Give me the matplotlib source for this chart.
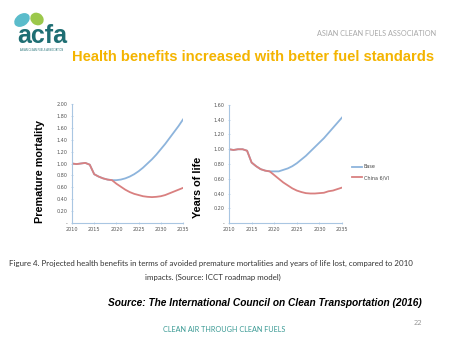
import numpy as np
import matplotlib.pyplot as plt
from matplotlib.patches import Ellipse
from matplotlib.ticker import FuncFormatter

years = list(range(2010, 2036))

# premature mortality (relative to 2010)
mort_base = [1.00, 0.99, 1.00, 1.01, 0.98, 0.82, 0.78, 0.75, 0.73, 0.72, 0.72, 0.73, 0.75,
             0.78, 0.82, 0.87, 0.93, 1.00, 1.07, 1.15, 1.24, 1.33, 1.43, 1.53, 1.63, 1.74]
mort_china = [1.00, 0.99, 1.00, 1.01, 0.98, 0.82, 0.78, 0.75, 0.73, 0.72, 0.66, 0.61, 0.56,
              0.52, 0.49, 0.47, 0.45, 0.44, 0.435, 0.44, 0.45, 0.47, 0.50, 0.53, 0.56, 0.59]

# years of life lost (relative to 2010)
yll_base = [1.00, 0.99, 1.00, 1.00, 0.98, 0.82, 0.77, 0.73, 0.71, 0.70, 0.70, 0.70, 0.72,
            0.74, 0.77, 0.81, 0.86, 0.91, 0.97, 1.03, 1.09, 1.15, 1.22, 1.29, 1.36, 1.43]
yll_china = [1.00, 0.99, 1.00, 1.00, 0.98, 0.82, 0.77, 0.73, 0.71, 0.70, 0.65, 0.60, 0.55,
             0.51, 0.47, 0.44, 0.42, 0.405, 0.40, 0.40, 0.405, 0.41, 0.43, 0.44, 0.46, 0.48]

xticks = [2010, 2015, 2020, 2025, 2030, 2035]
series_names = ['Base', 'China 6/VI']

blue = '#8DB4DC'
red = '#D98080'
axcol = '#A9C6E2'

W, H = 449, 338
fig = plt.figure(figsize=(W / 100, H / 100), dpi=100)
fig.patch.set_facecolor('white')

def fx(px):
    return px / W

def fy(py):
    return 1 - py / H

def zero_dash(v, pos):
    return '-' if abs(v) < 1e-9 else '%.2f' % v

def panel(left, right, top, bottom, base, china, ymax, ylabel, lab_x, lab_y):
    ax = fig.add_axes([fx(left), fy(bottom), fx(right - left), (bottom - top) / H])
    ax.plot(years, base, color=blue, lw=1.3, label=series_names[0])
    ax.plot(years, china, color=red, lw=1.3, label=series_names[1])
    ax.set_xlim(2010, 2035)
    ax.set_ylim(0, ymax)
    ax.set_xticks(xticks)
    ax.set_yticks(np.arange(0, ymax + 0.001, 0.2))
    ax.yaxis.set_major_formatter(FuncFormatter(zero_dash))
    for s in ['top', 'right']:
        ax.spines[s].set_visible(False)
    for s in ['left', 'bottom']:
        ax.spines[s].set_color(axcol)
        ax.spines[s].set_linewidth(0.8)
    ax.tick_params(labelsize=3.5, colors='#555555', length=2, width=0.5, direction='inout', pad=2)
    ax.tick_params(axis='both', color=axcol)
    fig.text(fx(lab_x), fy(lab_y), ylabel, rotation=90, ha='center', va='center',
             fontsize=7.8, fontweight='bold', family='Liberation Sans', color='black')
    return ax

panel(72, 183, 104, 223, mort_base, mort_china, 2.0, 'Premature mortality', 40, 172)
ax2 = panel(229, 342, 105, 223, yll_base, yll_china, 1.6, 'Years of life', 198, 187)
ax2.legend(loc='center left', bbox_to_anchor=(1.05, 0.43), frameon=False, fontsize=3.5,
           handlelength=2, handletextpad=0.4, labelspacing=1.2, labelcolor='#444444')

# logo
lax = fig.add_axes([0, 0, 1, 1], facecolor='none')
lax.set_xlim(0, W)
lax.set_ylim(H, 0)
lax.axis('off')
lax.add_patch(Ellipse((22, 20), 17, 12, angle=-35, color='#5BBCCB', lw=0))
lax.add_patch(Ellipse((37, 19), 14, 12, angle=35, color='#9CC84B', lw=0))
lax.text(42, 36, 'acfa', ha='center', va='center', fontsize=18, fontweight='bold',
         family='Liberation Sans', color='#1E6E73')
lax.text(42, 50, 'ASIAN CLEAN FUELS ASSOCIATION', ha='center', va='center', fontsize=1.8,
         color='#1E6E73')

fig.text(fx(436), fy(33), 'ASIAN CLEAN FUELS ASSOCIATION', ha='right', va='center',
         fontsize=5.2, color='#A8A8A8', family='Lato')
fig.text(fx(253), fy(57), 'Health benefits increased with better fuel standards', ha='center',
         va='center', fontsize=10.6, fontweight='bold', family='Liberation Sans', color='#F4B400')

fig.text(fx(211), fy(263), 'Figure 4. Projected health benefits in terms of avoided premature '
         'mortalities and years of life lost, compared to 2010', ha='center', va='center',
         fontsize=5.65, family='Lato', color='#333333')
fig.text(fx(213), fy(277), 'impacts. (Source: ICCT roadmap model)', ha='center', va='center',
         fontsize=5.65, family='Lato', color='#333333')

fig.text(fx(422), fy(303), 'Source: The International Council on Clean Transportation (2016)',
         ha='right', va='center', fontsize=7.25, fontweight='bold', style='italic',
         family='Liberation Sans', color='black')
fig.text(fx(422), fy(323), '22', ha='right', va='center', fontsize=5, color='#999999')
fig.text(fx(224), fy(330), 'CLEAN AIR THROUGH CLEAN FUELS', ha='center', va='center',
         fontsize=5.2, family='Lato', color='#3A9A94')

fig.savefig('out.png', dpi=100)
